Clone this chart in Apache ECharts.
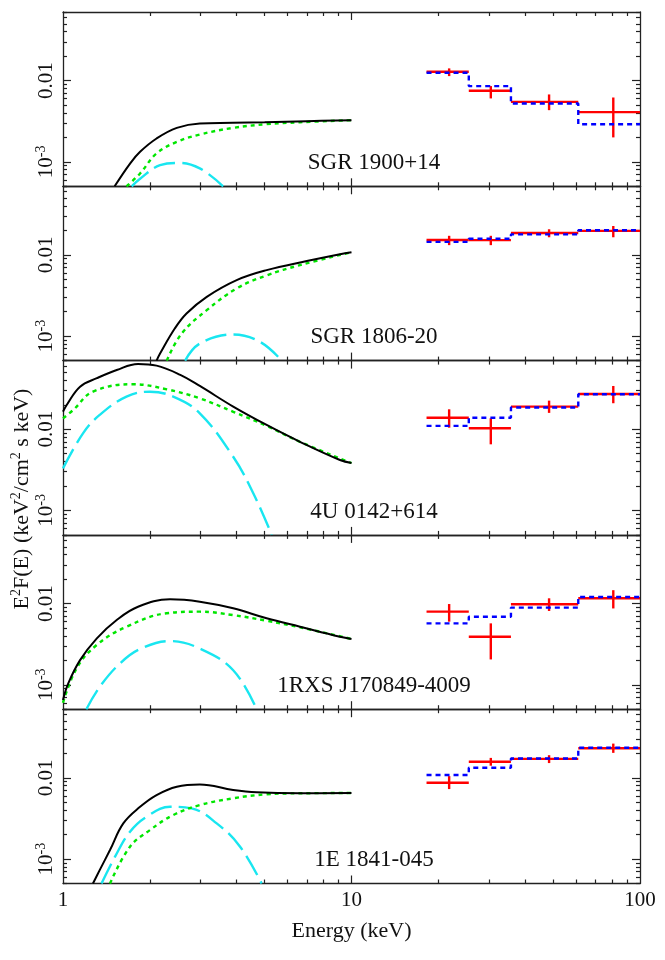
<!DOCTYPE html>
<html>
<head>
<meta charset="UTF-8">
<title>Broad-band spectra</title>
<script src="https://cdn.jsdelivr.net/npm/echarts@6/dist/echarts.min.js"></script>
<style>
  html, body { margin: 0; padding: 0; background: #fff; }
  #spectra { width: 665px; height: 960px; }
</style>
</head>
<body>
<div id="spectra"></div>
<script>
	// source names, one per panel (top to bottom)
	var sourceNames = ['SGR 1900+14', 'SGR 1806-20', '4U 0142+614', '1RXS J170849-4009', '1E 1841-045'];

	// hard X-ray bins (keV)
	var binLo  = [18.2, 25.5, 35.7, 61.1];
	var binHi  = [25.5, 35.7, 61.1, 100];
	var binMid = [21.8, 30.4, 48.4, 80.8];

	// ticks
	var xMajorTicks = [1, 10, 100];
	var xMinorTicks = [2, 3, 4, 5, 6, 7, 8, 9, 20, 30, 40, 50, 60, 70, 80, 90];
	var yMajorTicks = [0.001, 0.01];
	var yMinorTicks = [0.0005, 0.0006, 0.0007, 0.0008, 0.0009,
		0.002, 0.003, 0.004, 0.005, 0.006, 0.007, 0.008, 0.009,
		0.02, 0.03, 0.04, 0.05, 0.06, 0.07];

	/* SGR 1900+14 */
	var totalSgr1900 = [[1.51,5e-4],[1.71,9.6e-4],[1.85,1.33e-3],[2.11,1.94e-3],[2.48,2.62e-3],[2.98,2.97e-3],[3.88,3.02e-3],[5.0,3.08e-3],[7.0,3.17e-3],[10,3.26e-3]];
	var plSgr1900    = [[1.66,5e-4],[1.85,7.2e-4],[2.11,1.27e-3],[2.48,1.76e-3],[2.98,2.17e-3],[3.89,2.62e-3],[5.08,2.91e-3],[6.63,3.07e-3],[10,3.26e-3]];
	var bbSgr1900    = [[1.73,5e-4],[1.85,6.2e-4],[2.17,9.1e-4],[2.51,9.7e-4],[2.98,8.3e-4],[3.59,5e-4]];
	var fluxSgr1900   = [0.01285, 0.0075, 0.00548, 0.00409];
	var fluxLoSgr1900 = [0.01137, 0.00604, 0.00433, 0.0020];
	var fluxHiSgr1900 = [0.01415, 0.00857, 0.00676, 0.0062];
	var modelSgr1900  = [0.0125, 0.00857, 0.00523, 0.00291];

	/* SGR 1806-20 */
	var totalSgr1806 = [[2.11,5e-4],[2.17,6.1e-4],[2.44,1.24e-3],[2.68,1.9e-3],[3.15,3.05e-3],[4.0,4.9e-3],[5.08,6.5e-3],[7.0,8.4e-3],[9.12,0.0102],[10,0.0108]];
	var plSgr1806    = [[2.29,5e-4],[2.58,1.08e-3],[3.15,2.09e-3],[4.0,3.87e-3],[5.08,5.6e-3],[6.63,7.5e-3],[10,0.0108]];
	var bbSgr1806    = [[2.65,5e-4],[2.98,8.1e-4],[3.89,1.05e-3],[4.82,8.5e-4],[5.73,5e-4]];
	var fluxSgr1806   = [0.01524, 0.0152, 0.0186, 0.0198];
	var fluxLoSgr1806 = [0.0132, 0.0132, 0.0165, 0.0165];
	var fluxHiSgr1806 = [0.0172, 0.0172, 0.0207, 0.0227];
	var modelSgr1806  = [0.0145, 0.0158, 0.0179, 0.0201];

	/* 4U 0142+614 */
	var total4u = [[1.0,0.01645],[1.03,0.0199],[1.146,0.0334],[1.31,0.0425],[1.535,0.0537],[1.82,0.0637],[2.11,0.0607],[2.55,0.0467],[2.98,0.0341],[3.89,0.019],[5.08,0.01128],[6.63,0.0070],[9.12,0.00418],[10,0.00384]];
	var pl4u    = [[1.0,0.0136],[1.086,0.0173],[1.27,0.029],[1.75,0.0358],[2.29,0.031],[2.98,0.024],[3.89,0.0164],[5.08,0.011],[6.63,0.0070],[10,0.00384]];
	var bb4u    = [[1.0,0.0033],[1.173,0.0089],[1.34,0.015],[1.66,0.0252],[2.0,0.029],[2.41,0.0252],[2.98,0.0157],[3.89,0.00458],[4.57,0.00162],[5.29,5e-4]];
	var flux4u   = [0.01387, 0.01027, 0.019, 0.0272];
	var fluxLo4u = [0.01045, 0.00652, 0.0159, 0.0209];
	var fluxHi4u = [0.0176, 0.01364, 0.0225, 0.0341];
	var model4u  = [0.011, 0.01387, 0.0185, 0.027];

	/* 1RXS J170849-4009 */
	var total1rxs = [[1.0,6.5e-4],[1.043,1.04e-3],[1.146,2.01e-3],[1.31,3.73e-3],[1.535,6.27e-3],[1.82,9.14e-3],[2.35,0.01127],[2.98,0.01054],[3.89,0.00873],[5.08,0.00658],[6.63,0.00518],[9.12,0.0039],[10,0.00366]];
	var pl1rxs    = [[1.0,6.0e-4],[1.116,1.6e-3],[1.31,3.1e-3],[1.66,5.18e-3],[2.29,7.59e-3],[2.98,7.94e-3],[3.89,7.2e-3],[5.08,6.14e-3],[6.63,5.1e-3],[10,0.00366]];
	var bb1rxs    = [[1.205,5e-4],[1.34,9.4e-4],[1.576,1.83e-3],[1.85,2.75e-3],[2.35,3.45e-3],[2.98,2.79e-3],[3.89,1.51e-3],[4.69,5e-4]];
	var flux1rxs   = [7.94e-3, 3.9e-3, 9.8e-3, 0.0116];
	var fluxLo1rxs = [5.98e-3, 2.05e-3, 8.1e-3, 8.7e-3];
	var fluxHi1rxs = [9.86e-3, 5.7e-3, 0.0116, 0.0146];
	var model1rxs  = [5.7e-3, 6.88e-3, 8.9e-3, 0.01205];

	/* 1E 1841-045 */
	var total1e = [[1.27,5e-4],[1.34,7.3e-4],[1.455,1.29e-3],[1.618,2.75e-3],[1.85,4.4e-3],[2.11,6.14e-3],[2.48,7.78e-3],[2.98,8.3e-3],[3.89,7.1e-3],[4.69,6.64e-3],[6.63,6.45e-3],[10,6.5e-3]];
	var pl1e    = [[1.455,5e-4],[1.707,1.42e-3],[2.0,2.27e-3],[2.41,3.48e-3],[2.98,4.62e-3],[3.89,5.6e-3],[5.08,6.27e-3],[6.63,6.45e-3],[10,6.5e-3]];
	var bb1e    = [[1.36,5e-4],[1.515,1.07e-3],[1.707,2.17e-3],[1.95,3.32e-3],[2.35,4.4e-3],[2.79,4.2e-3],[3.41,2.75e-3],[4.11,1.42e-3],[4.88,5e-4]];
	var flux1e   = [8.7e-3, 0.0158, 0.0171, 0.0231];
	var fluxLo1e = [7.27e-3, 0.0141, 0.0152, 0.0203];
	var fluxHi1e = [0.0105, 0.0176, 0.019, 0.0264];
	var model1e  = [0.01083, 0.0133, 0.0173, 0.0235];

	var panels = [
		{total: totalSgr1900, pl: plSgr1900, bb: bbSgr1900, flux: fluxSgr1900, lo: fluxLoSgr1900, hi: fluxHiSgr1900, model: modelSgr1900},
		{total: totalSgr1806, pl: plSgr1806, bb: bbSgr1806, flux: fluxSgr1806, lo: fluxLoSgr1806, hi: fluxHiSgr1806, model: modelSgr1806},
		{total: total4u, pl: pl4u, bb: bb4u, flux: flux4u, lo: fluxLo4u, hi: fluxHi4u, model: model4u},
		{total: total1rxs, pl: pl1rxs, bb: bb1rxs, flux: flux1rxs, lo: fluxLo1rxs, hi: fluxHi1rxs, model: model1rxs},
		{total: total1e, pl: pl1e, bb: bb1e, flux: flux1e, lo: fluxLo1e, hi: fluxHi1e, model: model1e}
	];

	var FONT = '"Liberation Serif", "Times New Roman", serif';
	var AXIS_COL = '#222';
	var GRID_LEFT = 63, GRID_W = 577, GRID_TOP = 12, PANEL_H = 174.3;

	var grids = [], xAxes = [], yAxes = [], series = [], graphics = [];

	/* data cross: horizontal bar = bin width, vertical bar = error */
	function crossItem(params, api) {
		var a = api.coord([api.value(0), api.value(3)]);
		var b = api.coord([api.value(1), api.value(3)]);
		var c = api.coord([api.value(2), api.value(4)]);
		var d = api.coord([api.value(2), api.value(5)]);
		var st = {stroke: '#ff0000', lineWidth: 2.4};
		return {type: 'group', children: [
			{type: 'line', shape: {x1: a[0], y1: a[1], x2: b[0], y2: b[1]}, style: st},
			{type: 'line', shape: {x1: c[0], y1: c[1], x2: d[0], y2: d[1]}, style: st}
		]};
	}

	function addPanel(i) {
		var p = panels[i];
		var panelTop = GRID_TOP + i * PANEL_H;
		var last = (i === panels.length - 1);
		grids.push({left: GRID_LEFT, top: panelTop, width: GRID_W, height: PANEL_H, outerBoundsMode: 'none'});

		/* x: bottom minor, bottom major, top minor, top major */
		[['bottom', xMinorTicks, 4], ['bottom', [10], 8], ['top', xMinorTicks, 4], ['top', [10], 8]].forEach(function (d, k) {
			var withLabel = last && k === 1;
			xAxes.push({
				type: 'log', gridIndex: i, position: d[0], min: 1, max: 100,
				axisLine: {show: k % 2 === 0, lineStyle: {color: AXIS_COL, width: 1.3}},
				axisTick: {show: true, inside: true, length: d[2], customValues: d[1], lineStyle: {color: AXIS_COL, width: 1.2}},
				axisLabel: {show: withLabel, customValues: xMajorTicks, margin: 6, color: '#111', fontSize: 21, fontFamily: FONT,
					formatter: function (v) { return String(Math.round(v)); }},
				splitLine: {show: false},
				name: withLabel ? 'Energy (keV)' : '',
				nameLocation: 'middle', nameGap: 37,
				nameTextStyle: {color: '#111', fontSize: 22, fontFamily: FONT}
			});
		});

		/* y: left minor, left major (labels), right minor, right major */
		[['left', yMinorTicks, 4], ['left', yMajorTicks, 8], ['right', yMinorTicks, 4], ['right', yMajorTicks, 8]].forEach(function (d, k) {
			yAxes.push({
				type: 'log', gridIndex: i, position: d[0], min: 0.0005, max: 0.07,
				axisLine: {show: k % 2 === 0, lineStyle: {color: AXIS_COL, width: 1.3}},
				axisTick: {show: true, inside: true, length: d[2], customValues: d[1], lineStyle: {color: AXIS_COL, width: 1.2}},
				axisLabel: {show: k === 1, customValues: yMajorTicks, rotate: 90, margin: 6, color: '#111', fontSize: 21, fontFamily: FONT,
					formatter: function (v) { return v > 0.005 ? '{n|0.01}' : '{n|10}{s|-3}'; },
					rich: {
						n: {fontSize: 21, fontFamily: FONT, color: '#111', lineHeight: 23, verticalAlign: 'bottom'},
						s: {fontSize: 14, fontFamily: FONT, color: '#111', lineHeight: 14, verticalAlign: 'top'}
					}},
				splitLine: {show: false}
			});
		});

		var ai = i * 4;

		series.push({
			type: 'line', xAxisIndex: ai, yAxisIndex: ai, data: p.total,
			symbol: 'none', smooth: 0.4,
			lineStyle: {color: '#000', width: 2}, z: 4
		});
		series.push({
			type: 'line', xAxisIndex: ai, yAxisIndex: ai, data: p.pl,
			symbol: 'none', smooth: 0.4,
			lineStyle: {color: '#00e600', width: 2.4, type: [4, 4]}, z: 3
		});
		series.push({
			type: 'line', xAxisIndex: ai, yAxisIndex: ai, data: p.bb,
			symbol: 'none', smooth: 0.4,
			lineStyle: {color: '#19e6f0', width: 2.4, type: [22, 7]}, z: 2
		});
		series.push({
			type: 'custom', xAxisIndex: ai, yAxisIndex: ai,
			data: binLo.map(function (lo, j) { return [lo, binHi[j], binMid[j], p.flux[j], p.lo[j], p.hi[j]]; }),
			encode: {x: [0, 1, 2], y: [3, 4, 5]},
			renderItem: crossItem, z: 5
		});
		series.push({
			type: 'line', xAxisIndex: ai, yAxisIndex: ai, step: 'end',
			data: binLo.map(function (lo, j) { return [lo, p.model[j]]; }).concat([[binHi[3], p.model[3]]]),
			symbol: 'none',
			lineStyle: {color: '#0000ff', width: 2.4, type: [5, 4]}, z: 6
		});

		graphics.push({
			type: 'text', x: 374, y: panelTop + 151,
			style: {text: sourceNames[i], fill: '#111', font: '23px ' + FONT, textAlign: 'center', textVerticalAlign: 'middle'}
		});
	}

	for (var n = 0; n < panels.length; n++) addPanel(n);

	graphics.push({
		type: 'text', x: 21, y: 499, rotation: Math.PI / 2,
		style: {
			text: '{n|E}{s|2}{n|F(E) (keV}{s|2}{n|/cm}{s|2}{n| s keV)}',
			textAlign: 'center', textVerticalAlign: 'middle',
			rich: {
				n: {fontSize: 22, fontFamily: FONT, fill: '#111', lineHeight: 24, verticalAlign: 'bottom'},
				s: {fontSize: 14, fontFamily: FONT, fill: '#111', lineHeight: 14, verticalAlign: 'top'}
			}
		}
	});

	var myChart = echarts.init(document.getElementById('spectra'));
	myChart.setOption({
		animation: false,
		backgroundColor: '#fff',
		grid: grids,
		xAxis: xAxes,
		yAxis: yAxes,
		series: series,
		graphic: graphics
	});
</script>
</body>
</html>
